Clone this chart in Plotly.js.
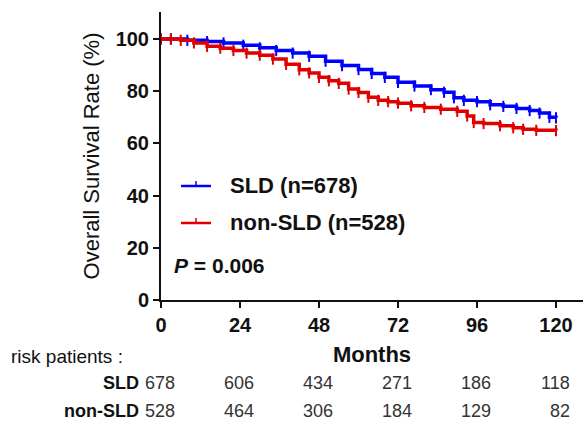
<!DOCTYPE html>
<html>
<head>
<meta charset="utf-8">
<script src="https://cdn.plot.ly/plotly-3.0.1.min.js"></script>
<style>
  html, body { margin: 0; padding: 0; background: #fff; }
  #chart { width: 583px; height: 427px; }
</style>
</head>
<body>
<div id="chart"></div>
<script>
// ---- data ----
const sldMonths = [0, 3, 8, 14, 19, 25, 30, 35, 40, 45, 50, 55, 60, 64, 68, 72, 77, 82, 86, 89, 92, 96, 100, 104, 108, 112, 115, 118, 120];
const sldSurv   = [100, 100, 99.5, 99, 98.5, 97.6, 96.6, 95.6, 94.6, 93.4, 91.5, 89.8, 88.3, 86.8, 85.3, 83.4, 82, 80.6, 79.6, 77.5, 76.5, 76, 74.8, 74.2, 73.4, 72.6, 71.6, 70, 69.8];

const nonMonths = [0, 3, 6, 10, 14, 18, 22, 26, 30, 34, 38, 42, 45, 48, 51, 54, 57, 60, 63, 66, 69, 72, 76, 80, 85, 90, 93, 95, 98, 103, 107, 110, 114, 120];
const nonSurv   = [100, 100, 99.5, 98.5, 97.2, 96.5, 95.6, 94.6, 93.8, 92.3, 90.3, 88.2, 87, 85.3, 84, 83, 80.8, 79.5, 77.7, 76.5, 76, 75.4, 74.4, 73.8, 73.1, 72.3, 70.5, 68, 67.6, 66.8, 66, 65.4, 65, 64.9];

const tickMonths = [0, 24, 48, 72, 96, 120];
const tickLabels = ['0', '24', '48', '72', '96', '120'];
const yTicks = [0, 20, 40, 60, 80, 100];

const riskSLD = [678, 606, 434, 271, 186, 118];
const riskNon = [528, 464, 306, 184, 129, 82];

const seriesNames = ['SLD (n=678)', 'non-SLD (n=528)'];
const rowNames = ['SLD', 'non-SLD'];
const pText = '<i>P</i> = 0.006';

const BLUE = 'rgb(0,0,255)';
const RED = 'rgb(225,0,0)';
const FONT = 'Liberation Sans, Arial, sans-serif';

// plot area geometry (px)
const W = 583, H = 427;
const M = {l: 161, r: 0, t: 12, b: 127};
const pw = W - M.l - M.r, ph = H - M.t - M.b;
const px = x => (x - M.l) / pw;        // pixel -> paper x
const py = y => (H - M.b - y) / ph;    // pixel -> paper y

function kmTrace(xs, ys, color, name) {
  return {
    x: xs, y: ys, name: name, type: 'scatter', mode: 'lines+markers',
    line: {color: color, width: 3.5, shape: 'hv'},
    marker: {symbol: 'line-ns', size: 8, line: {color: color, width: 2}, color: color},
    showlegend: false, hoverinfo: 'skip'
  };
}

const traces = [
  kmTrace(sldMonths, sldSurv, BLUE, seriesNames[0]),
  kmTrace(nonMonths, nonSurv, RED, seriesNames[1])
];

const annotations = [];
const shapes = [];

// manual legend
const legendRows = [
  {name: seriesNames[0], color: BLUE, y: 186},
  {name: seriesNames[1], color: RED, y: 223}
];
legendRows.forEach(r => {
  shapes.push({type: 'line', xref: 'paper', yref: 'paper',
    x0: px(181), x1: px(211), y0: py(r.y), y1: py(r.y),
    line: {color: r.color, width: 2.5}});
  shapes.push({type: 'line', xref: 'paper', yref: 'paper',
    x0: px(196), x1: px(196), y0: py(r.y), y1: py(r.y - 5),
    line: {color: r.color, width: 1.5}});
  annotations.push({xref: 'paper', yref: 'paper', x: px(228), y: py(r.y - 1),
    xanchor: 'left', yanchor: 'middle', showarrow: false, text: r.name,
    font: {family: FONT, size: 22, color: '#111', weight: 'bold'}});
});
annotations.push({xref: 'paper', yref: 'paper', x: px(172), y: py(265),
  xanchor: 'left', yanchor: 'middle', showarrow: false, text: pText,
  font: {family: FONT, size: 21, color: '#111', weight: 'bold'}});

// risk table
annotations.push({xref: 'paper', yref: 'paper', x: px(9), y: py(356),
  xanchor: 'left', yanchor: 'middle', showarrow: false, text: 'risk patients :',
  font: {family: FONT, size: 19, color: '#111'}});
const rowsY = [383, 411];
[riskSLD, riskNon].forEach((vals, i) => {
  annotations.push({xref: 'paper', yref: 'paper', x: px(141), y: py(rowsY[i]),
    xanchor: 'right', yanchor: 'middle', showarrow: false, text: rowNames[i],
    font: {family: FONT, size: 18, color: '#111', weight: 'bold'}});
  vals.forEach((v, j) => {
    annotations.push({xref: 'x', yref: 'paper', x: tickMonths[j], y: py(rowsY[i]),
      xanchor: 'right', yanchor: 'middle', xshift: 16, showarrow: false, text: String(v),
      font: {family: FONT, size: 18, color: '#333'}});
  });
});

const layout = {
  width: W, height: H,
  margin: M,
  paper_bgcolor: '#fff', plot_bgcolor: '#fff',
  font: {family: FONT, color: '#111'},
  xaxis: {
    range: [0, pw / ((556 - 161) / 120)],
    tickvals: tickMonths, ticktext: tickLabels,
    ticks: 'outside', ticklen: 6, tickwidth: 2, tickcolor: '#111',
    showline: true, linewidth: 2, linecolor: '#111',
    showgrid: false, zeroline: false,
    tickfont: {family: FONT, size: 20, color: '#111', weight: 'bold'},
    title: {text: 'Months', standoff: 12,
      font: {family: FONT, size: 22, color: '#111', weight: 'bold'}}
  },
  yaxis: {
    range: [0, ph / 2.61],
    tickvals: yTicks,
    ticks: 'outside', ticklen: 6, tickwidth: 2, tickcolor: '#111',
    showline: true, linewidth: 2, linecolor: '#111',
    showgrid: false, zeroline: false,
    tickfont: {family: FONT, size: 20, color: '#111', weight: 'bold'},
    title: {text: 'Overall Survival Rate (%)', standoff: 10,
      font: {family: FONT, size: 22, color: '#111'}}
  },
  shapes: shapes,
  annotations: annotations
};

Plotly.newPlot('chart', traces, layout, {displayModeBar: false, staticPlot: true});
</script>
</body>
</html>
